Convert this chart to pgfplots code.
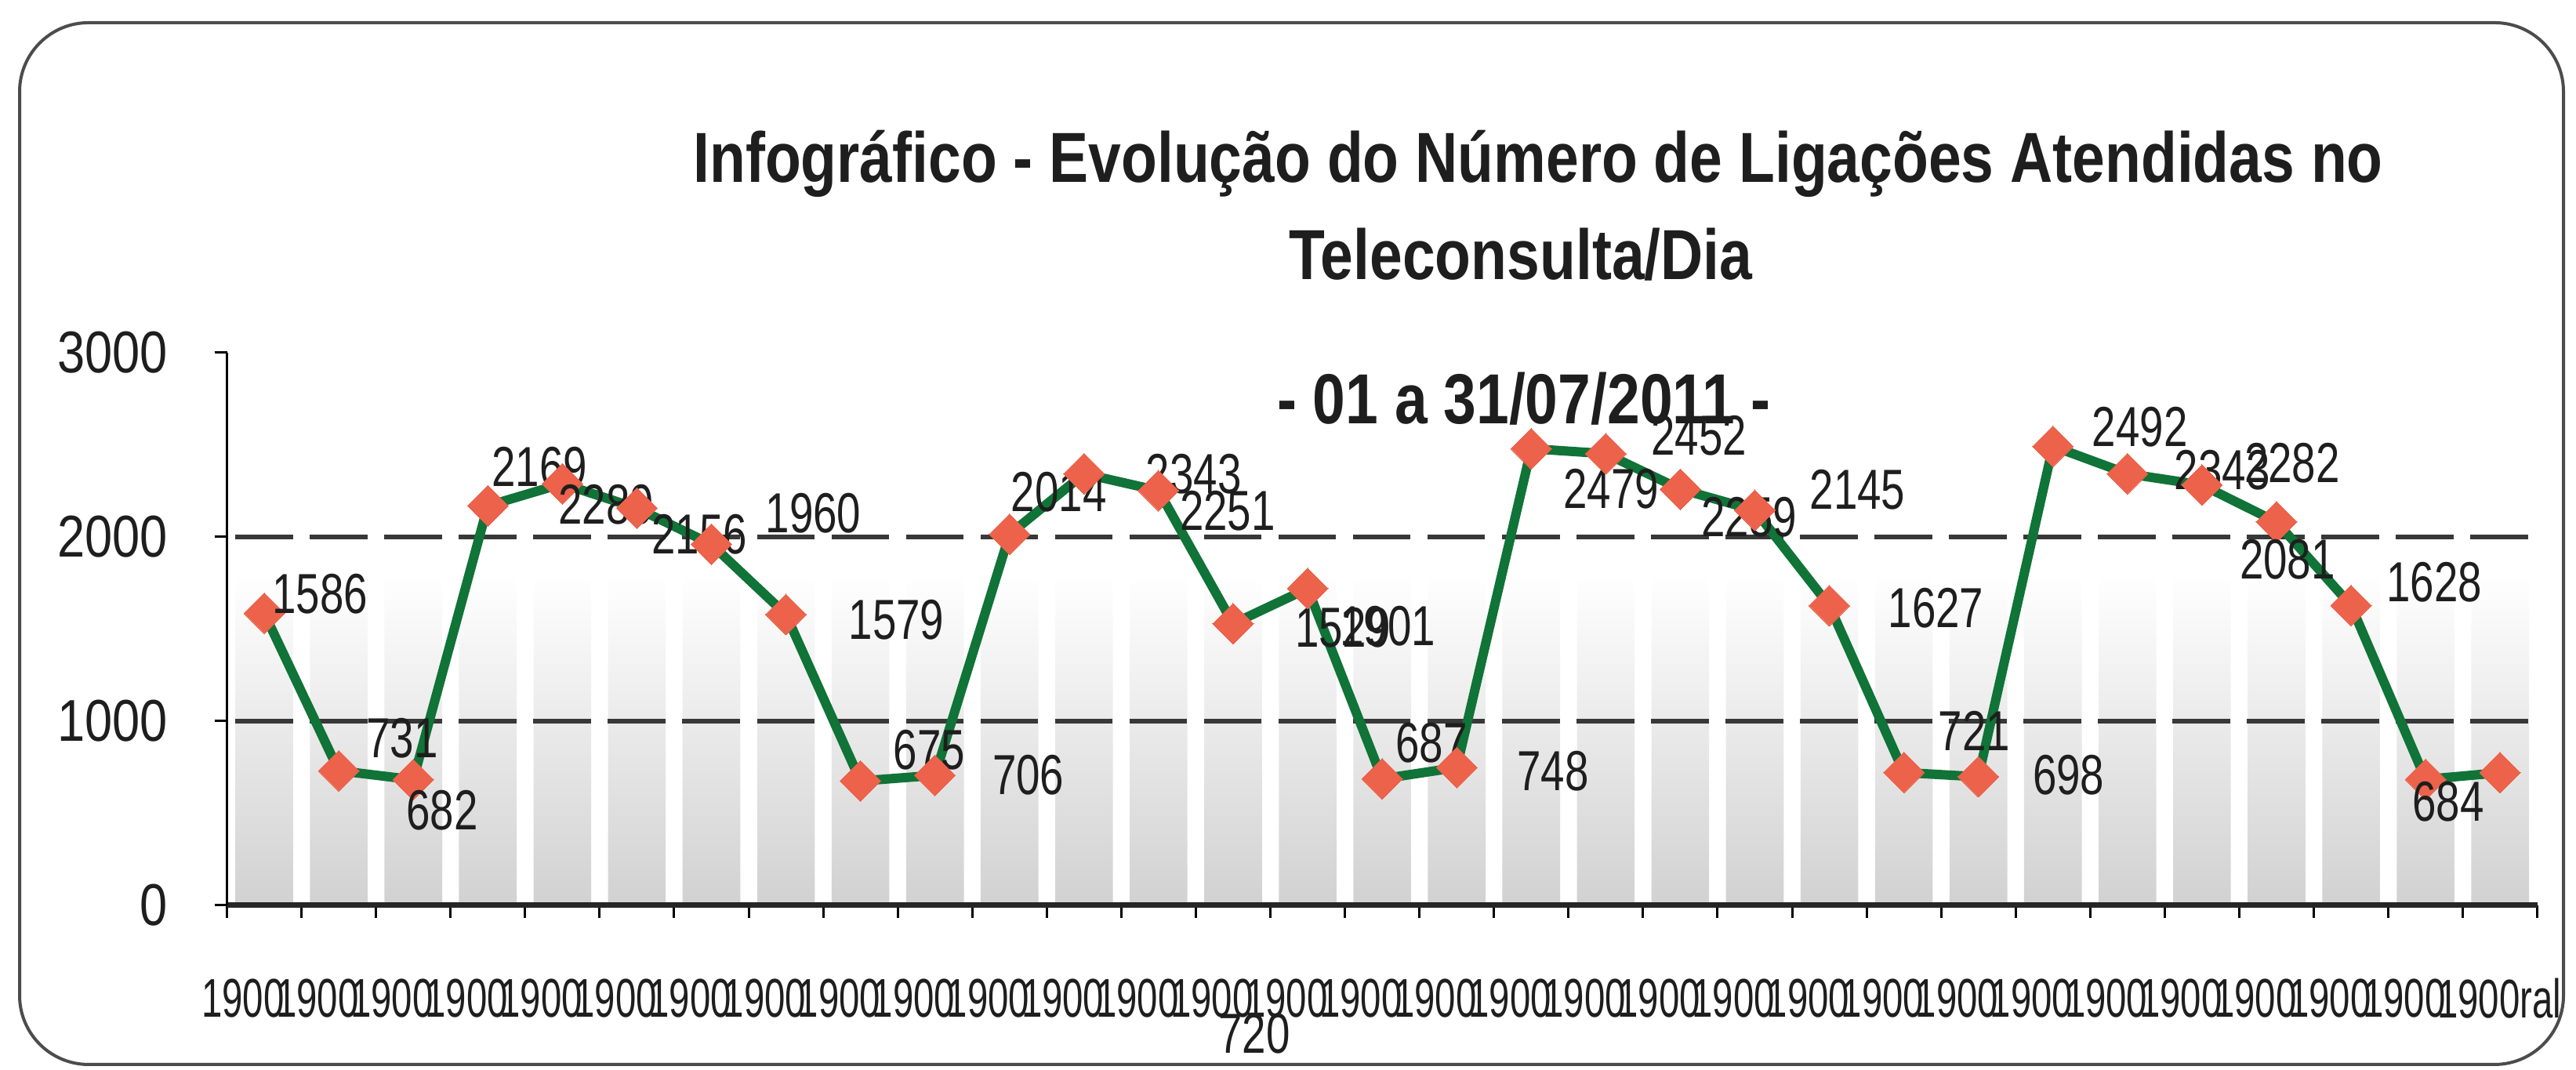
\documentclass[border=0pt]{standalone}
\usepackage{fontspec}
\setmainfont{Liberation Sans}
\newfontfamily\narrowfont[FakeStretch=0.84]{Liberation Sans}
\newfontfamily\lblfont[FakeStretch=0.76]{Liberation Sans}
\newfontfamily\xfont[FakeStretch=0.68]{Liberation Sans}
\newfontfamily\titlefont[FakeStretch=0.83]{Liberation Sans}
\usepackage{pgfplots}
\pgfplotsset{compat=1.18}
\usepackage{pgfplotstable}
\definecolor{lgreen}{RGB}{16,115,55}
\definecolor{mred}{RGB}{236,98,74}
\definecolor{txt}{RGB}{30,30,30}

\pgfplotstableread{
x y dx dy lab bg
1 1586 35.5 12.5 1586 1800
2 731 40.5 20.5 731 1800
3 682 18.5 -19.5 682 1800
4 2169 33 25 2169 1800
5 2289 28 -13.5 2289 1800
6 2156 40 -16.5 2156 1800
7 1960 65 20 1960 1800
8 1579 70.5 -3.5 1579 1800
9 675 44 20 675 1800
10 706 59.5 0 706 1800
11 2014 31.5 27 2014 1800
12 2343 70 0 2343 1800
13 2251 44 -13 2251 1800
14 1529 70 -2.5 1529 1800
15 1720 51 -24 1901 1800
16 687 31.5 23 687 1800
17 748 61.5 -2.5 748 1800
18 2479 51 -25.5 2479 1800
19 2452 59.5 11.5 2452 1800
20 2259 44 -18 2259 1800
21 2145 65.5 13 2145 1800
22 1627 68 -1.5 1627 1800
23 721 45 26.5 721 1800
24 698 57.5 1 698 1800
25 2492 55.5 12.5 2492 1800
26 2343 60.5 2.5 2343 1800
27 2282 57.5 14 2282 1800
28 2081 7 -24 2081 1800
29 1628 53 15 1628 1800
30 684 14.5 -14 684 1800
31 720 -794.5 -166.5 720 1800
}\datatable

\pgfplotsset{base/.style={
  at={(36.19bp,26.25bp)}, anchor=south west,
  scale only axis, width=368.4bp, height=88.125bp,
  xmin=0.5, xmax=31.5, ymin=0, ymax=3000, clip=false}}

\begin{document}
\begin{tikzpicture}
\useasboundingbox (0,0) rectangle (410.75bp,170.625bp);
\draw[line width=0.5bp, draw=black!70, rounded corners=11bp] (3.125bp,0.875bp) rectangle (408.75bp,167bp);
\begin{axis}[base, hide axis]
\addplot[ybar, bar width=9.2bp, draw=none, bottom color=black!18, middle color=black!11, top color=white] table[x=x,y=bg]{\datatable};
\end{axis}
\begin{axis}[
  base,
  axis x line*=bottom, axis y line*=left,
  x axis line style={line width=0.875bp, black!85, -},
  y axis line style={line width=0.375bp, black, -},
  tick align=outside,
  xtick={1,...,31},
  xticklabels={1900,1900,1900,1900,1900,1900,1900,1900,1900,1900,1900,1900,1900,1900,1900,1900,1900,1900,1900,1900,1900,1900,1900,1900,1900,1900,1900,1900,1900,1900,1900\rlap{ral}},
  major x tick style={draw=none},
  minor xtick={0.5,1.5,...,31.5},
  minor x tick style={line width=0.375bp, black},
  minor tick length=2bp,
  ytick={0,1000,2000,3000},
  yticklabels={0,1000,2000,3000},
  major tick length=2bp,
  y tick style={line width=0.375bp, black},
  extra y ticks={1000,2000},
  extra y tick labels={},
  extra y tick style={grid=major},
  grid style={line width=0.8bp, black!78, dash pattern=on 9.2bp off 2.68bp, dash phase=10.54bp},
  yticklabel style={font=\narrowfont\fontsize{9.4bp}{10bp}\selectfont, text=txt, anchor=east, inner sep=0pt, xshift=-7.3bp},
  xticklabel style={font=\xfont\fontsize{8.7bp}{9bp}\selectfont, text=txt, anchor=center, inner sep=0pt, yshift=-12.8bp, xshift=-3.4bp},
]
\addplot[lgreen, line width=1.5bp, line join=round, mark=square*, mark size=2.3bp,
  mark options={fill=mred, draw=mred, line width=0pt, rotate=45, solid},
  nodes near coords, point meta=explicit symbolic,
  visualization depends on={0.25*\thisrow{dx} \as \lbldx},
  visualization depends on={0.25*\thisrow{dy} \as \lbldy},
  every node near coord/.append style={anchor=center, xshift=\lbldx bp, yshift=\lbldy bp, font=\lblfont\fontsize{9bp}{9bp}\selectfont, text=txt, inner sep=0pt}
] table[x=x, y=y, meta=lab]{\datatable};
\end{axis}
\node[font=\titlefont\bfseries\fontsize{11.3bp}{12.5bp}\selectfont, text=txt] at (245.25bp,144.5bp) {Infográfico - Evolução do Número de Ligações Atendidas no};
\node[font=\titlefont\bfseries\fontsize{11.3bp}{12.5bp}\selectfont, text=txt] at (242.5bp,130bp) {Teleconsulta/Dia};
\node[font=\titlefont\bfseries\fontsize{11.3bp}{12.5bp}\selectfont, text=txt] at (243bp,107bp) {- 01 a 31/07/2011 -};
\end{tikzpicture}
\end{document}
